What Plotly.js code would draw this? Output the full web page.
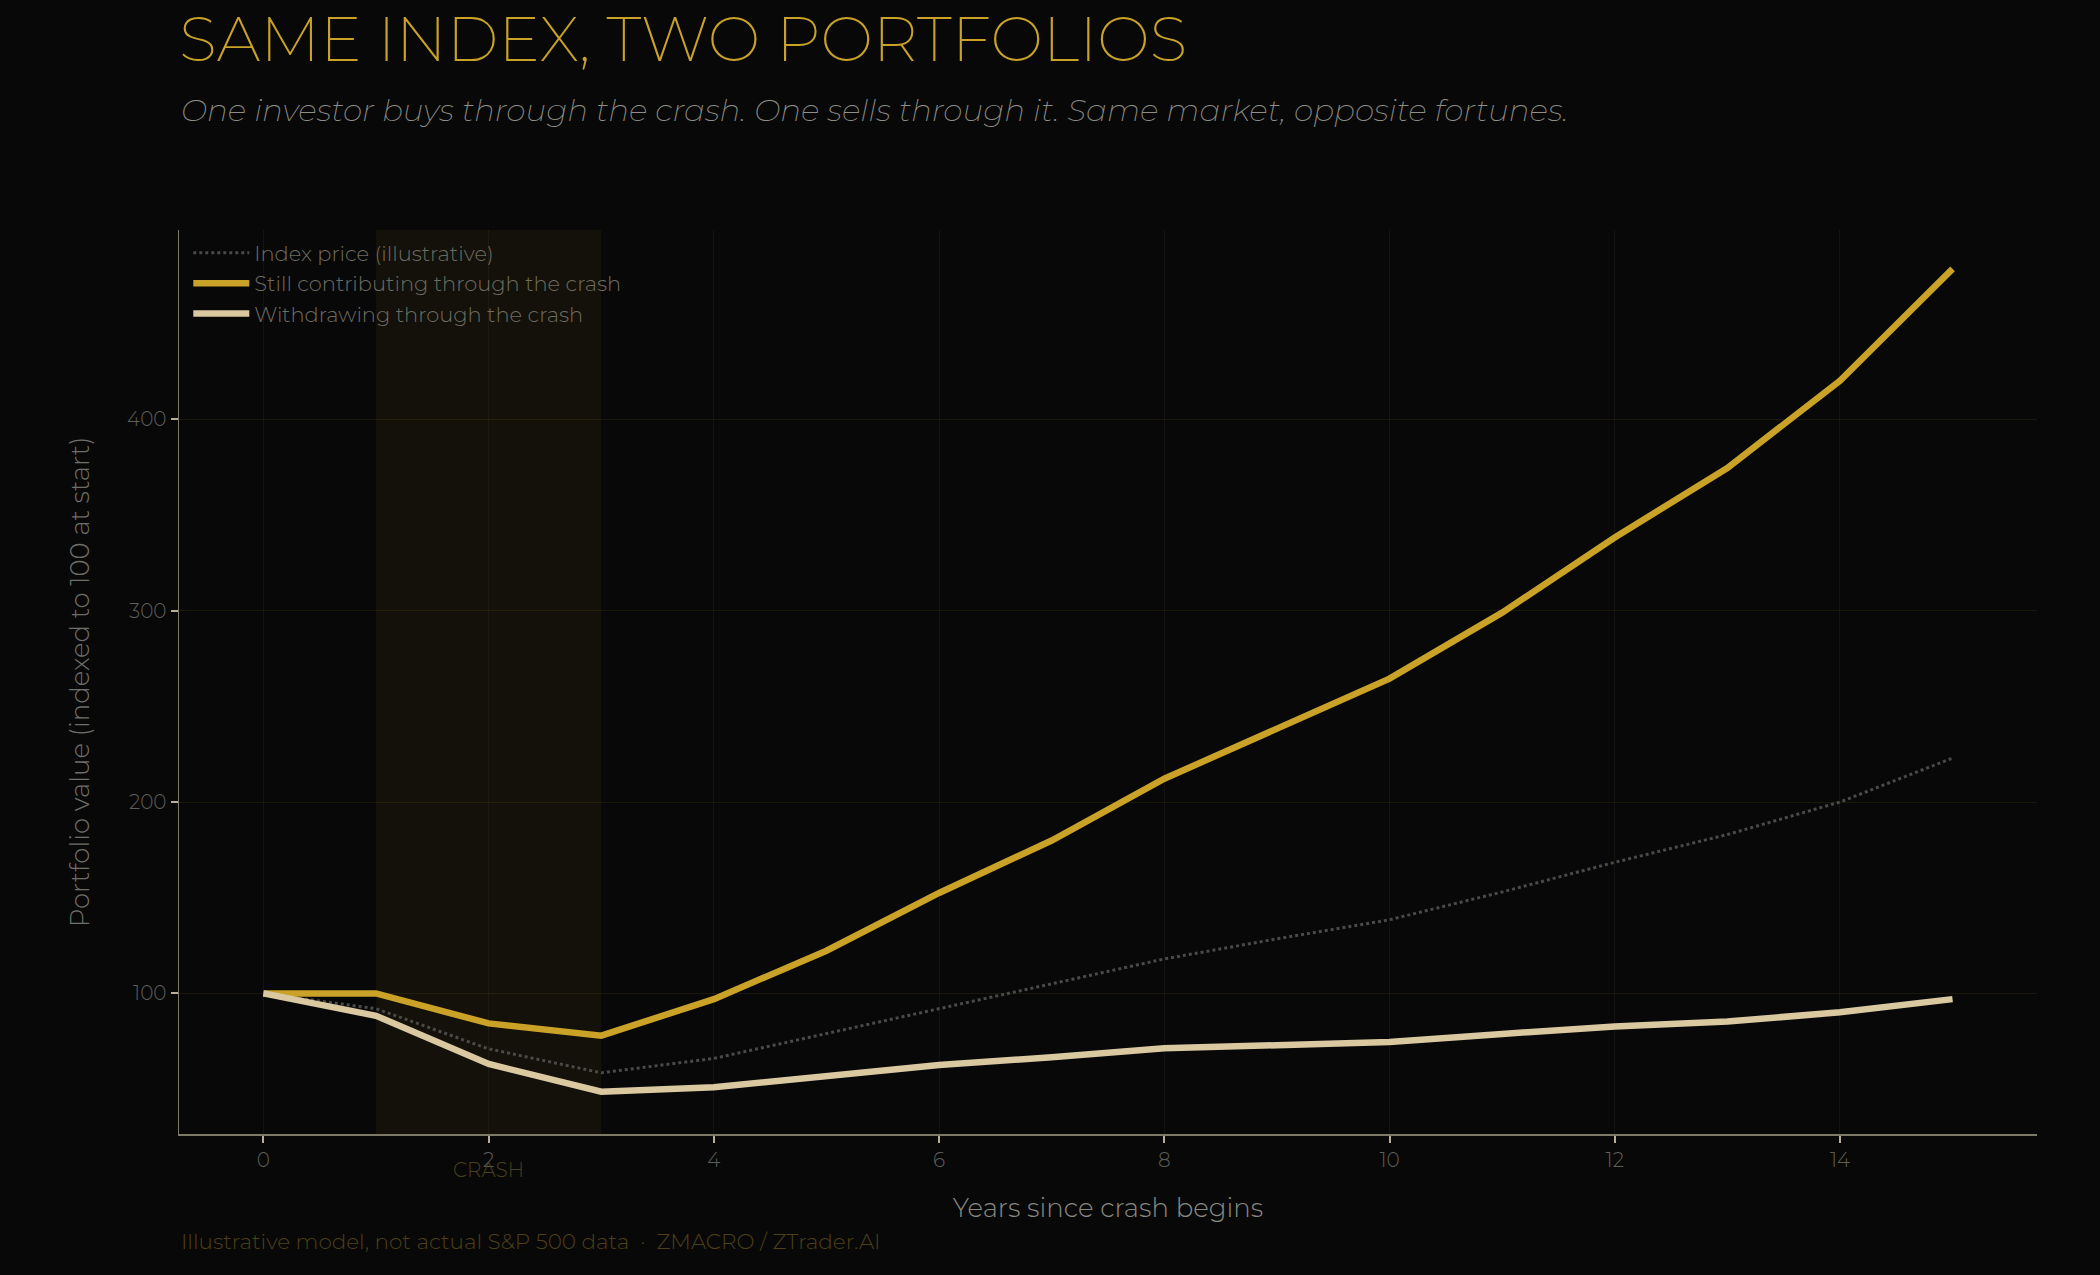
<!DOCTYPE html>
<html>
<head>
<meta charset="utf-8">
<script src="https://cdn.plot.ly/plotly-3.0.1.min.js"></script>
<style>
  html, body { margin: 0; padding: 0; background: #080808; }
  #chart { width: 2100px; height: 1275px; }
</style>
</head>
<body>
<div id="chart"></div>
<script>
const years = [0, 1, 2, 3, 4, 5, 6, 7, 8, 9, 10, 11, 12, 13, 14, 15];
const indexPrice = [100, 92, 71, 58.5, 66, 79, 92, 105, 118, 128.5, 138.5, 153, 168.5, 183, 200, 223];
const contributing = [100, 100, 84.3, 77.9, 97, 122.3, 152.5, 179.9, 212.2, 238.4, 264.5, 299, 338.3, 374.6, 420.2, 478.7];
const withdrawing = [100, 88.3, 63.1, 48.6, 50.9, 57, 62.6, 66.6, 71.3, 72.9, 74.6, 78.8, 82.7, 85.3, 90.1, 97];
const seriesNames = ["Index price (illustrative)", "Still contributing through the crash", "Withdrawing through the crash"];
const crashStart = 1, crashEnd = 3, crashLabelX = 2;
const xTicks = [0, 2, 4, 6, 8, 10, 12, 14];
const yTicks = [100, 200, 300, 400];

const FONT = "Montserrat, Lato, 'Open Sans', sans-serif";
const GOLD = "#C9A227";
const CREAM = "#D9C8A0";

const traces = [
  { x: years, y: indexPrice, name: seriesNames[0], type: "scatter", mode: "lines",
    line: { color: "#4a4a48", width: 3, dash: "dot" }, hoverinfo: "skip" },
  { x: years, y: contributing, name: seriesNames[1], type: "scatter", mode: "lines",
    line: { color: GOLD, width: 6.5 } },
  { x: years, y: withdrawing, name: seriesNames[2], type: "scatter", mode: "lines",
    line: { color: CREAM, width: 6.5 } }
];

const layout = {
  width: 2100, height: 1275,
  paper_bgcolor: "#080808", plot_bgcolor: "#080808",
  font: { family: FONT, color: "#7a7a72", size: 20, weight: 300 },
  margin: { l: 179, r: 63, t: 230, b: 141 },
  showlegend: true,
  title: {
    text: "SAME INDEX, TWO PORTFOLIOS",
    font: { family: FONT, size: 62.5, color: GOLD, weight: 200 },
    x: 0, xref: "paper", xanchor: "left",
    y: 0.969, yref: "container", yanchor: "middle"
  },
  legend: {
    x: 0.005, y: 0.997, xanchor: "left", yanchor: "top",
    bgcolor: "rgba(0,0,0,0)", borderwidth: 0,
    itemwidth: 56,
    font: { family: FONT, size: 21, color: "#6e6c62", weight: 300 },
    tracegroupgap: 0
  },
  xaxis: {
    range: [-0.75, 15.75],
    tickvals: xTicks,
    ticktext: xTicks.map(String),
    showgrid: true, gridcolor: "rgba(160,150,110,0.08)", gridwidth: 1,
    zeroline: false,
    showline: true, linecolor: "#7d7a68", linewidth: 1.5,
    ticks: "outside", ticklen: 7, tickwidth: 2, tickcolor: "#b8b09a",
    tickfont: { family: FONT, size: 20, color: "#5e5e5a", weight: 300 },
    title: { text: "Years since crash begins", standoff: 28,
             font: { family: FONT, size: 26, color: "#8a8a84", weight: 300 } }
  },
  yaxis: {
    range: [26.5, 499],
    tickvals: yTicks,
    ticktext: yTicks.map(String),
    showgrid: true, gridcolor: "rgba(201,162,39,0.10)", gridwidth: 1,
    zeroline: false,
    showline: true, linecolor: "#7d7a68", linewidth: 1.5,
    ticks: "outside", ticklen: 7, tickwidth: 2, tickcolor: "#b8b09a",
    tickfont: { family: FONT, size: 20, color: "#5e5e5a", weight: 300 },
    title: { text: "Portfolio value (indexed to 100 at start)", standoff: 30,
             font: { family: FONT, size: 26, color: "#6e6e6a", weight: 300 } }
  },
  shapes: [
    { type: "rect", xref: "x", yref: "paper", x0: crashStart, x1: crashEnd, y0: 0, y1: 1,
      fillcolor: "rgba(201,162,39,0.06)", line: { width: 0 }, layer: "below" }
  ],
  annotations: [
    { text: "One investor buys through the crash. One sells through it. Same market, opposite fortunes.",
      xref: "paper", yref: "paper", x: 0, y: 1.133, xanchor: "left", yanchor: "middle",
      showarrow: false,
      font: { family: FONT, size: 31.1, color: "#8e8e86", style: "italic", weight: 200 } },
    { text: "CRASH", xref: "x", yref: "paper", x: crashLabelX, y: -0.04,
      xanchor: "center", yanchor: "middle", showarrow: false,
      font: { family: FONT, size: 20, color: "#4a401c", weight: 300 } },
    { text: "Illustrative model, not actual S&amp;P 500 data  ·  ZMACRO / ZTrader.AI",
      xref: "paper", yref: "paper", x: 0, y: -0.118, xanchor: "left", yanchor: "middle",
      showarrow: false,
      font: { family: FONT, size: 21.5, color: "#4d4019", weight: 300 } }
  ]
};

Plotly.newPlot("chart", traces, layout, { displayModeBar: false, staticPlot: true });
</script>
</body>
</html>
